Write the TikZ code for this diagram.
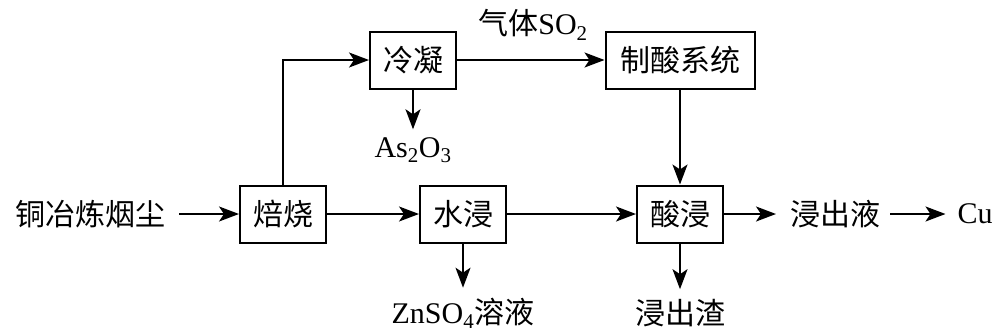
\documentclass[tikz,border=0pt]{standalone}
\usepackage{fontspec}
\setmainfont{Liberation Serif}
\newfontfamily\cjk{Noto Sans CJK SC}
\usetikzlibrary{arrows.meta}
\begin{document}
\begin{tikzpicture}[x=1pt,y=-1pt,
  every node/.style={font=\fontsize{30}{36}\selectfont},
  box/.style={draw,line width=2pt,inner sep=0pt,minimum width=86pt,minimum height=57pt},
  lbl/.style={inner sep=0pt,outer sep=0pt},
  arr/.style={line width=2pt,-{Stealth[length=20pt,width=15pt,inset=5pt]}}]
\useasboundingbox (0,0) rectangle (995,332);
% boxes
\node[box] (bs) at (283,214) {\cjk 焙烧};
\node[box] (lnb) at (413,60) {\cjk 冷凝};
\node[box,minimum width=149pt] (zs) at (680,60) {\cjk 制酸系统};
\node[box] (sj) at (463,214) {\cjk 水浸};
\node[box] (sq) at (680,214) {\cjk 酸浸};
% labels
\node[lbl] (src) at (90,214) {\cjk 铜冶炼烟尘};
\node[lbl] (gas) at (533,25) {{\cjk 气体}SO\textsubscript{2}};
\node[lbl] (as) at (413,150) {As\textsubscript{2}O\textsubscript{3}};
\node[lbl] (zn) at (463,313) {ZnSO\textsubscript{4}{\cjk 溶液}};
\node[lbl] (zc) at (680,313) {\cjk 浸出渣};
\node[lbl] (jy) at (835,214) {\cjk 浸出液};
\node[lbl] (cu) at (975,214) {Cu};
% connectors
\draw[arr,shorten <=14pt] (src.east) -- (bs.west);
\draw[arr] (bs.north) |- (lnb.west);
\draw[arr] (lnb.east) -- (zs.west);
\draw[arr,shorten >=8pt] (lnb.south) -- (as.north);
\draw[arr] (zs.south) -- (sq.north);
\draw[arr] (bs.east) -- (sj.west);
\draw[arr] (sj.east) -- (sq.west);
\draw[arr,shorten >=10pt] (sj.south) -- (zn.north -| sj.south);
\draw[arr,shorten >=10pt] (sq.south) -- (zc.north);
\draw[arr,shorten >=14pt] (sq.east) -- (jy.west);
\draw[arr,shorten <=10pt,shorten >=12pt] (jy.east) -- (cu.west);
\end{tikzpicture}
\end{document}
